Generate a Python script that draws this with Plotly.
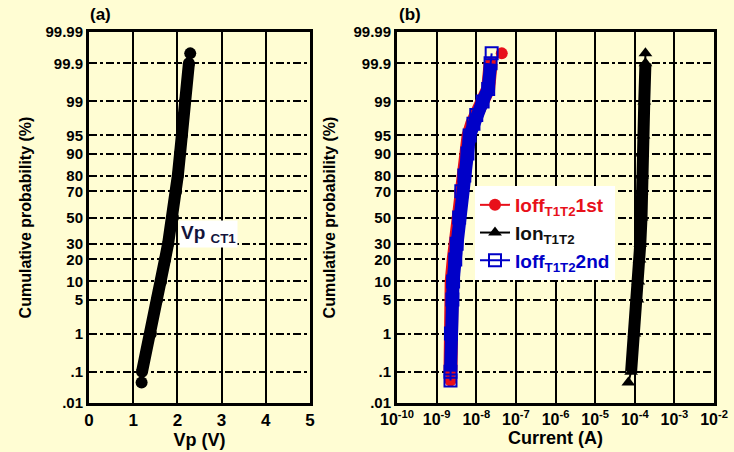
from statistics import NormalDist
import plotly.graph_objects as go

nd = NormalDist()


def probit(percent_list):
    return [nd.inv_cdf(v / 100.0) for v in percent_list]


# ---------------- data ----------------
prob_ticks = [0.01, 0.1, 1, 5, 10, 20, 30, 50, 70, 80, 90, 95, 99, 99.9, 99.99]
prob_labels = [".01", ".1", "1", "5", "10", "20", "30", "50", "70", "80", "90", "95", "99", "99.9", "99.99"]

# panel (a): Vp_CT1 cumulative distribution
vp_prob = [0.047, 0.1, 1, 5, 10, 20, 30, 50, 70, 80, 90, 95, 99, 99.9, 99.95]
vp_volt = [1.19, 1.20, 1.40, 1.54, 1.63, 1.72, 1.79, 1.90, 1.97, 2.01, 2.06, 2.10, 2.17, 2.26, 2.29]

# panel (b): currents
cur_prob = [0.054, 0.1, 1, 5, 10, 20, 30, 50, 70, 80, 90, 95, 97, 98, 99, 99.5, 99.9, 99.95]
ioff1_cur = [2.24e-9, 2.24e-9, 2.2e-9, 2.3e-9, 2.4e-9, 2.7e-9, 2.95e-9, 3.4e-9, 3.9e-9,
             4.6e-9, 5.6e-9, 6.4e-9, 7.9e-9, 9.5e-9, 1.4e-8, 2.0e-8, 2.3e-8, 4.4e-8]
ioff2_cur = [2.24e-9, 2.24e-9, 2.3e-9, 2.5e-9, 2.6e-9, 2.95e-9, 3.2e-9, 3.7e-9, 4.2e-9,
             5.0e-9, 6.0e-9, 6.8e-9, 8.5e-9, 1.0e-8, 1.45e-8, 2.0e-8, 2.3e-8, 2.45e-8]
ion_prob = [0.047, 0.1, 1, 5, 10, 20, 30, 50, 70, 80, 90, 95, 99, 99.9, 99.95]
ion_cur = [6.9e-5, 8.1e-5, 9.8e-5, 1.17e-4, 1.23e-4, 1.32e-4, 1.38e-4, 1.48e-4, 1.48e-4,
           1.55e-4, 1.55e-4, 1.66e-4, 1.74e-4, 1.86e-4, 1.86e-4]

x2_ticks = [1e-10, 1e-9, 1e-8, 1e-7, 1e-6, 1e-5, 1e-4, 1e-3, 1e-2]
x2_labels = ["10<sup>-10</sup>", "10<sup>-9</sup>", "10<sup>-8</sup>", "10<sup>-7</sup>",
             "10<sup>-6</sup>", "10<sup>-5</sup>", "10<sup>-4</sup>", "10<sup>-3</sup>",
             "10<sup>-2</sup>"]

# ---------------- figure ----------------
W, H = 734, 452
ML, MR, MT, MB = 89, 20, 32, 49
PW, PH = W - ML - MR, H - MT - MB
BG = "#FFFDD3"
FONT = "Liberation Sans, Arial, sans-serif"


def px(x):
    return (x - ML) / PW


def py(y):
    return (H - MB - y) / PH


fig = go.Figure()

# panel (a)
fig.add_trace(go.Scatter(x=vp_volt[1:-1], y=probit(vp_prob[1:-1]), mode="lines",
                         line=dict(color="black", width=12), showlegend=False,
                         xaxis="x", yaxis="y", hoverinfo="skip"))
fig.add_trace(go.Scatter(x=vp_volt, y=probit(vp_prob), mode="lines+markers",
                         line=dict(color="black", width=2),
                         marker=dict(symbol="circle", size=12, color="black"),
                         showlegend=False, xaxis="x", yaxis="y"))

# panel (b)
fig.add_trace(go.Scatter(x=ioff1_cur[1:-1], y=probit(cur_prob[1:-1]), mode="lines",
                         line=dict(color="#E8101A", width=14), showlegend=False,
                         xaxis="x2", yaxis="y2", hoverinfo="skip"))
fig.add_trace(go.Scatter(x=ioff1_cur, y=probit(cur_prob), mode="lines+markers",
                         line=dict(color="#E8101A", width=2),
                         marker=dict(symbol="circle", size=12, color="#E8101A"),
                         name="<span style='color:#E8101A'>Ioff<sub>T1T2</sub>1st</span>",
                         xaxis="x2", yaxis="y2"))
fig.add_trace(go.Scatter(x=ion_cur[1:-1], y=probit(ion_prob[1:-1]), mode="lines",
                         line=dict(color="black", width=12), showlegend=False,
                         xaxis="x2", yaxis="y2", hoverinfo="skip"))
fig.add_trace(go.Scatter(x=ion_cur, y=probit(ion_prob), mode="lines+markers",
                         line=dict(color="black", width=2),
                         marker=dict(symbol="triangle-up", size=12, color="black"),
                         name="<span style='color:#111111'>Ion<sub>T1T2</sub></span>",
                         xaxis="x2", yaxis="y2"))
fig.add_trace(go.Scatter(x=ioff2_cur[1:-1], y=probit(cur_prob[1:-1]), mode="lines",
                         line=dict(color="#0000C8", width=13), showlegend=False,
                         xaxis="x2", yaxis="y2", hoverinfo="skip"))
fig.add_trace(go.Scatter(x=ioff2_cur, y=probit(cur_prob), mode="lines+markers",
                         line=dict(color="#0000C8", width=2),
                         marker=dict(symbol="square-open", size=12, color="#0000C8",
                                     line=dict(width=2, color="#0000C8")),
                         name="<span style='color:#0000C8'>Ioff<sub>T1T2</sub>2nd</span>",
                         xaxis="x2", yaxis="y2"))

zlim = nd.inv_cdf(0.9999)

yaxis_common = dict(
    range=[-zlim, zlim], tickmode="array", tickvals=probit(prob_ticks), ticktext=prob_labels,
    showgrid=True, gridcolor="black", gridwidth=2, griddash="8px,3px,3px,3px",
    zeroline=False, showline=True, linecolor="black", linewidth=3, mirror=True,
    ticks="", tickfont=dict(family=FONT, size=15, color="black", weight="bold"),
    domain=[0, 1], automargin=False,
)
xaxis_common = dict(
    showgrid=True, gridcolor="black", gridwidth=1.5, zeroline=False,
    showline=True, linecolor="black", linewidth=3, mirror=True, ticks="",
    tickfont=dict(family=FONT, size=17, color="black", weight="bold"),
    automargin=False,
)

fig.update_layout(
    width=W, height=H,
    margin=dict(l=ML, r=MR, t=MT, b=MB),
    paper_bgcolor=BG, plot_bgcolor=BG,
    xaxis=dict(xaxis_common, range=[0, 5], dtick=1, domain=[0, px(310)], anchor="y",
               title=dict(text="Vp (V)", font=dict(family=FONT, size=18, color="black", weight="bold"),
                          standoff=4)),
    yaxis=dict(yaxis_common, anchor="x",
               title=dict(text="Cumulative probability (%)",
                          font=dict(family=FONT, size=16, color="black", weight="bold"),
                          standoff=10)),
    xaxis2=dict(xaxis_common, type="log", range=[-10, -2], tickmode="array",
                tickvals=x2_ticks, ticktext=x2_labels, domain=[px(397), 1], anchor="y2",
                tickfont=dict(family=FONT, size=16, color="black", weight="bold"),
                title=dict(text="Current (A)", font=dict(family=FONT, size=18, color="black", weight="bold"),
                           standoff=4)),
    yaxis2=dict(yaxis_common, anchor="x2",
                title=dict(text="Cumulative probability (%)",
                           font=dict(family=FONT, size=16, color="black", weight="bold"),
                           standoff=14)),
    legend=dict(x=px(475), y=py(186), xanchor="left", yanchor="top",
                bgcolor="white", borderwidth=0,
                font=dict(family=FONT, size=19, color="black", weight="bold"),
                itemwidth=30),
    showlegend=True,
    annotations=[
        dict(text="(a)", x=px(88), y=py(14), xref="paper", yref="paper",
             xanchor="left", yanchor="middle", showarrow=False,
             font=dict(family=FONT, size=17, color="black", weight="bold")),
        dict(text="(b)", x=px(397), y=py(14), xref="paper", yref="paper",
             xanchor="left", yanchor="middle", showarrow=False,
             font=dict(family=FONT, size=17, color="black", weight="bold")),
        dict(text="Vp <sub>CT1</sub>", x=px(179), y=py(234), xref="paper", yref="paper",
             xanchor="left", yanchor="middle", showarrow=False, bgcolor="white",
             borderpad=1,
             font=dict(family=FONT, size=19, color="#14143C", weight="bold")),
    ],
)

fig.write_html("out.html", config={"displayModeBar": False},
               post_script="document.body.style.margin='0';document.body.style.background='" + BG + "';")
